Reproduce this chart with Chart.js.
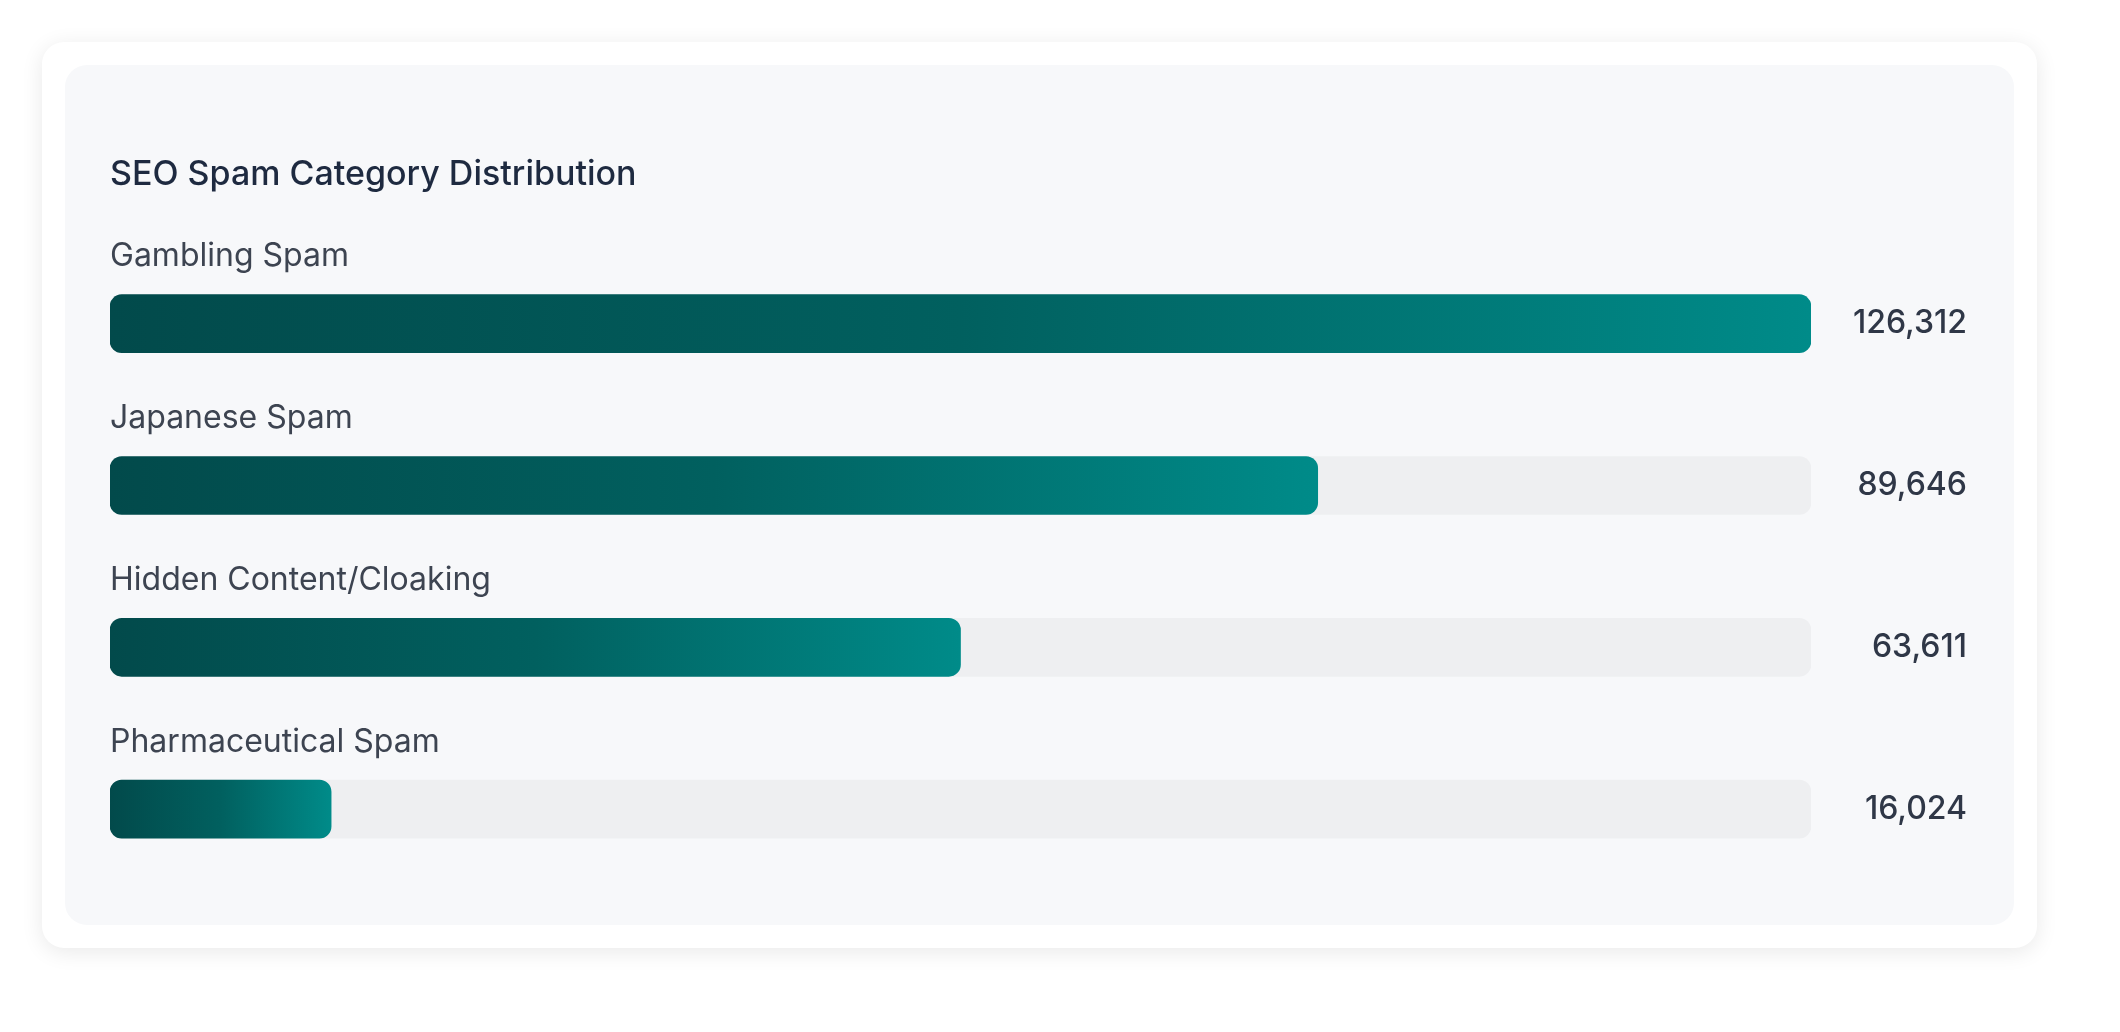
<!DOCTYPE html>
<html>
<head>
<meta charset="utf-8">
<script src="https://cdn.jsdelivr.net/npm/chart.js@4/dist/chart.umd.min.js"></script>
<style>
  html, body { margin: 0; padding: 0; background: #ffffff; }
  body { width: 2120px; height: 1032px; position: relative; overflow: hidden; }
  .card {
    position: absolute; left: 42px; top: 42px; width: 1995px; height: 906px;
    background: #ffffff; border-radius: 22px;
    box-shadow: 0 4px 22px rgba(0,0,0,0.09);
  }
  .panel {
    position: absolute; left: 23px; top: 23px; width: 1949px; height: 860px;
    background: #f7f8fa; border-radius: 22px;
  }
</style>
</head>
<body>
<div class="card">
  <div class="panel">
    <canvas id="spamChart" width="1949" height="860"></canvas>
  </div>
</div>
<script>
var categories = ['Gambling Spam', 'Japanese Spam', 'Hidden Content/Cloaking', 'Pharmaceutical Spam'];
var counts = [126312, 89646, 63611, 16024];
var maxCount = Math.max.apply(null, counts);
// bar length is the share of the largest category, rounded to whole percent
var percents = counts.map(function(c) { return Math.round(c / maxCount * 100); });
var trackValues = categories.map(function() { return 100; });

var FONT = 'Inter, "Noto Sans", sans-serif';

// draws the category name above each bar and the count to the right of the track
var rowLabels = {
  id: 'rowLabels',
  afterDatasetsDraw: function(chart) {
    var ctx = chart.ctx;
    var meta = chart.getDatasetMeta(0);
    var xScale = chart.scales.x;
    ctx.save();
    meta.data.forEach(function(bar, i) {
      var top = bar.y - bar.height / 2;
      ctx.font = '400 32px ' + FONT;
      ctx.fillStyle = '#3d4451';
      ctx.textAlign = 'left';
      ctx.textBaseline = 'middle';
      ctx.fillText(categories[i], xScale.getPixelForValue(0), top - 38);

      ctx.font = '500 32px ' + FONT;
      ctx.fillStyle = '#2f3747';
      ctx.textAlign = 'right';
      ctx.fillText(counts[i].toLocaleString('en-US'), xScale.getPixelForValue(100) + 156, bar.y);
    });
    ctx.restore();
  }
};

function barGradient(context) {
  var chart = context.chart;
  var xScale = chart.scales.x;
  if (!chart.chartArea || !xScale) return '#006b6b';
  var x0 = xScale.getPixelForValue(0);
  var x1 = xScale.getPixelForValue(percents[context.dataIndex]);
  var g = chart.ctx.createLinearGradient(x0, 0, x1, 0);
  g.addColorStop(0, '#024a4b');
  g.addColorStop(0.5, '#01605f');
  g.addColorStop(1, '#008b89');
  return g;
}

new Chart(document.getElementById('spamChart'), {
  type: 'bar',
  data: {
    labels: categories,
    datasets: [{
      data: percents,
      backgroundColor: barGradient,
      borderRadius: 12,
      borderSkipped: false,
      barThickness: 58,
      grouped: false
    }, {
      data: trackValues,
      backgroundColor: '#eeeff1',
      borderRadius: 12,
      borderSkipped: false,
      barThickness: 58,
      grouped: false
    }]
  },
  options: {
    indexAxis: 'y',
    responsive: false,
    animation: false,
    layout: {
      padding: { top: 88, left: 45, right: 203, bottom: 35 }
    },
    scales: {
      x: { display: false, min: 0, max: 100 },
      y: { display: false }
    },
    plugins: {
      legend: { display: false },
      tooltip: { enabled: false },
      title: {
        display: true,
        text: 'SEO Spam Category Distribution',
        align: 'start',
        color: '#1e2a40',
        font: { family: FONT, size: 34, weight: '500', lineHeight: 1.2 },
        padding: { top: 1, bottom: 48 }
      }
    }
  },
  plugins: [rowLabels]
});
</script>
</body>
</html>
